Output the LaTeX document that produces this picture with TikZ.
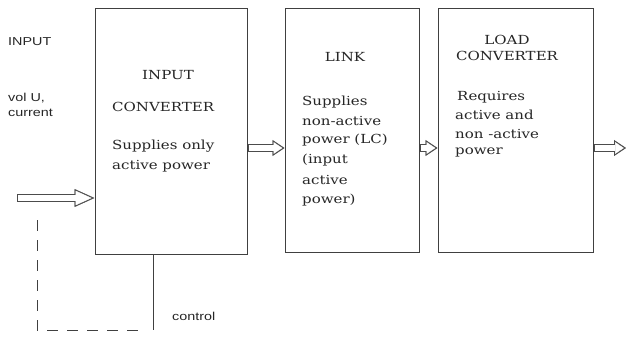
\documentclass[tikz,border=0pt]{standalone}
\usepackage{fontspec}
\setmainfont{DejaVu Serif}[FakeStretch=1.2]
\setsansfont{Liberation Sans}[FakeStretch=1.25]
\usetikzlibrary{arrows.meta}
\tikzstyle{block}=[rectangle, draw=black!75, line width=1pt, fill=white, inner sep=0pt]
\tikzstyle{txt}=[inner sep=0pt, anchor=west, text=black!85, font=\fontsize{12.5}{14}\selectfont]
\tikzstyle{lbl}=[inner sep=0pt, anchor=west, text=black!85, font=\sffamily\fontsize{11.5}{13}\selectfont]
\tikzstyle{flow}=[draw=black!70, line width=8pt, -{Triangle[length=12pt,width=16pt,line width=0.4pt]},
  postaction={draw=white, line width=5.6pt, shorten <=1.2pt, shorten >=2.2pt, -{Triangle[length=8.6pt,width=11.5pt,line width=0.4pt]}}]
\tikzstyle{bigflow}=[draw=black!70, line width=8pt, -{Triangle[length=20pt,width=18pt,line width=0.4pt]},
  postaction={draw=white, line width=5.6pt, shorten <=1.2pt, shorten >=2.9pt, -{Triangle[length=15.9pt,width=14.3pt,line width=0.4pt]}}]
\tikzstyle{ctrl}=[draw=black!75, line width=1pt]
\tikzstyle{fb}=[draw=black!75, line width=1pt, dash pattern=on 11pt off 9pt]

\begin{document}
\begin{tikzpicture}[x=1pt,y=-1pt]
				\useasboundingbox (0,0) rectangle (626,337);
				%The blocks
				\draw (171,131.5) node[block, minimum width=152pt, minimum height=245pt] (conv) {};
				\draw (352,130.5) node[block, minimum width=134pt, minimum height=243pt] (link) {};
				\draw (515.5,130.5) node[block, minimum width=155pt, minimum height=243pt] (load) {};
				
				%The outer labels
				\draw (8,42) node[lbl] (inp) {INPUT};
				\draw (8,98) node[lbl] (vol) {vol U,};
				\draw (8,113) node[lbl] (cur) {current};
				\draw (172,316) node[lbl] (ctl) {control};
				
				%Texts of the input converter
				\draw (168,75) node[txt, anchor=center] (c1) {INPUT};
				\draw (112,107) node[txt] (c2) {CONVERTER};
				\draw (112,146) node[txt] (c3) {Supplies only};
				\draw (112,166) node[txt] (c4) {active power};
				
				%Texts of the link
				\draw (345,57) node[txt, anchor=center] (l1) {LINK};
				\draw (302,102) node[txt] (l2) {Supplies};
				\draw (302,121) node[txt] (l3) {non-active};
				\draw (302,140) node[txt] (l4) {power (LC)};
				\draw (302,160) node[txt] (l5) {(input};
				\draw (302,180) node[txt] (l6) {active};
				\draw (302,200) node[txt] (l7) {power)};
				
				%Texts of the load converter
				\draw (507,40) node[txt, anchor=center] (d1) {LOAD};
				\draw (507,56) node[txt, anchor=center] (d2) {CONVERTER};
				\draw (457,97) node[txt] (d3) {Requires};
				\draw (455,115) node[txt] (d4) {active and};
				\draw (455,134) node[txt] (d5) {non -active};
				\draw (455,152) node[txt] (d6) {power};
				
				%The power flow
				\coordinate (in) at (17,198);
				\coordinate (out) at (626,148);
				\coordinate (mid) at (0,148);
				\draw[bigflow] (in) -- (in -| conv.west);
				\draw[flow] (conv.east |- mid) -- (link.west |- mid);
				\draw[flow] (link.east |- mid) -- (load.west |- mid);
				\draw[flow] (load.east |- out) -- (out);
				
				%The control
				\coordinate (cb) at (153,330);
				\coordinate (fa) at (37,220);
				\coordinate (fe) at (140,330);
				\draw[ctrl] (conv.south -| cb) -- (cb);
				\draw[fb] (fa) -- (fa |- fe) -- (fe);
			\end{tikzpicture}
\end{document}
